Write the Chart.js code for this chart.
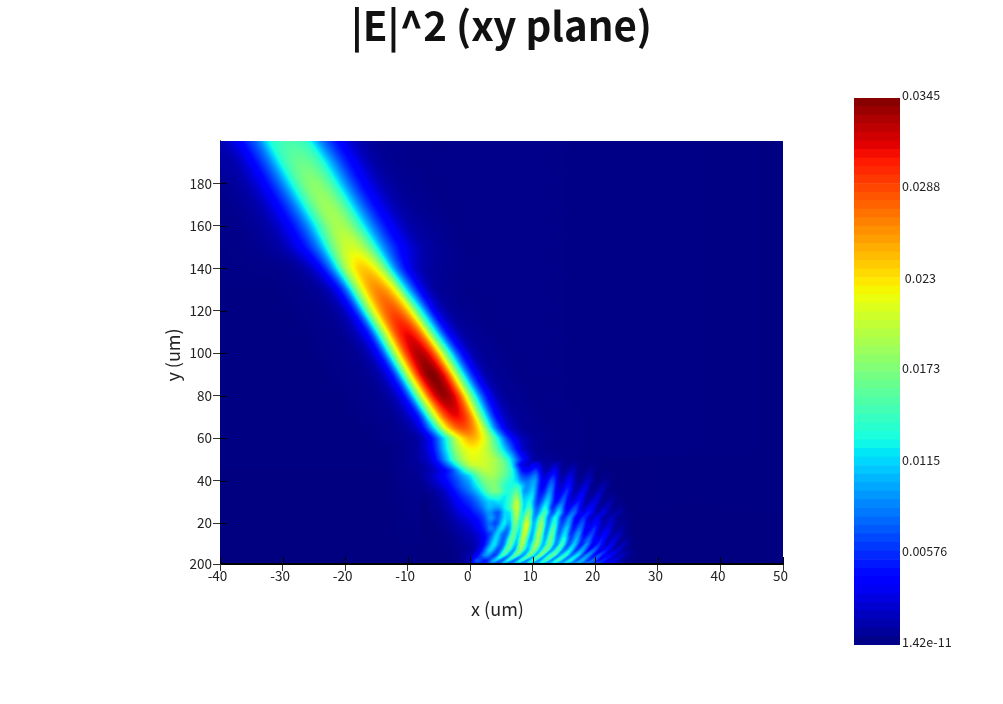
<!DOCTYPE html>
<html>
<head>
<meta charset="utf-8">
<title>|E|^2 (xy plane)</title>
<script src="https://cdn.jsdelivr.net/npm/chart.js@4"></script>
<style>
  html, body { margin: 0; padding: 0; background: #fff; }
  #wrap { position: relative; width: 1003px; height: 704px; overflow: hidden; }
  #chart { position: absolute; left: 0; top: 0; }
  #colorbar { position: absolute; left: 840px; top: 80px; }
</style>
</head>
<body>
<div id="wrap">
  <canvas id="chart" width="1003" height="704"></canvas>
  <canvas id="colorbar" width="150" height="590"></canvas>
</div>
<script>
const FONT = '"Noto Sans CJK JP", "Noto Sans", sans-serif';

const titleText = '|E|^2 (xy plane)';
const xTitle = 'x (um)';
const yTitle = 'y (um)';

const xTickValues = [-40, -30, -20, -10, 0, 10, 20, 30, 40, 50];
const yMin = 0.8;
const yTickValues = [yMin, 20, 40, 60, 80, 100, 120, 140, 160, 180];
const yTickLabels = ['200', '20', '40', '60', '80', '100', '120', '140', '160', '180'];

const colorMax = 0.0345;
const colorBands = 64;
const colorTickValues = [1.42e-11, 0.00576, 0.0115, 0.0173, 0.023, 0.0288, 0.0345];
const colorTickLabels = ['1.42e-11', '0.00576', '0.0115', '0.0173', ' 0.023', '0.0288', '0.0345'];

// values below are |E|^2 in units of 1e-4
const beamX = [-40, -38, -36, -34, -32, -30, -28, -26, -24, -22, -20, -18, -16, -14, -12, -10, -8, -6, -4, -2, 0, 2, 4, 6, 8, 10, 12, 14, 16, 20, 30, 50];
const beamY = [200, 190, 180, 170, 160, 150, 140, 130, 120, 110, 100, 90, 80, 70, 65, 60, 55, 50, 40, 0];
const beamZ = [
  [15,28,51,82,131,147,149,136,90,56,32,16,8,5,5,4,4,3,3,3,3,3,3,3,3,3,3,3,2,2,2,1],
  [11,13,27,51,87,137,161,163,144,97,57,33,15,8,5,4,3,3,3,3,3,3,3,3,3,3,3,3,2,2,2,1],
  [5,8,14,29,53,90,142,174,175,147,95,55,31,15,8,5,4,3,3,3,3,3,3,3,3,3,3,3,2,2,2,1],
  [3,5,8,14,29,53,90,145,181,182,150,95,55,31,15,8,5,4,3,3,3,3,3,3,3,3,3,3,2,2,2,1],
  [3,3,5,8,14,29,53,90,146,186,187,152,97,56,32,15,9,6,4,3,3,3,3,3,3,3,3,3,2,2,2,1],
  [2,3,3,5,8,14,30,54,95,164,203,203,164,97,55,31,15,9,6,4,3,3,3,3,3,3,3,3,2,2,2,1],
  [2,2,2,3,3,4,7,16,40,93,184,234,234,184,93,40,16,8,5,4,3,3,3,3,3,3,3,3,2,2,2,1],
  [1,1,1,1,1,2,3,5,9,26,75,181,251,262,216,112,42,12,6,4,3,3,3,3,3,3,3,3,2,2,2,1],
  [1,1,1,1,1,1,2,3,4,8,22,72,186,265,284,241,137,46,14,6,4,3,3,3,3,3,3,3,2,2,2,1],
  [1,1,1,1,1,1,1,2,3,4,8,22,65,182,281,310,267,153,55,17,7,5,3,3,3,3,3,3,2,2,2,1],
  [1,1,1,1,1,1,1,1,2,3,4,7,20,68,192,297,330,290,178,70,20,7,5,3,3,3,3,3,2,2,2,1],
  [1,1,1,1,1,1,1,1,1,2,3,4,7,20,68,197,310,345,302,182,70,20,7,5,3,3,3,3,2,2,2,1],
  [1,1,1,1,1,1,1,1,1,1,2,3,4,7,20,68,194,304,338,296,178,70,20,7,5,3,3,3,2,2,2,1],
  [1,1,1,1,1,1,1,1,1,1,1,2,3,4,7,20,60,182,281,310,267,153,52,16,7,5,3,3,3,2,2,1],
  [1,1,1,1,1,1,1,1,1,1,1,1,2,3,5,11,34,110,222,280,273,203,85,26,9,5,4,3,3,2,2,1],
  [1,1,1,1,1,1,1,1,1,1,1,1,1,3,4,7,14,50,125,210,250,222,148,62,22,8,5,3,3,2,2,1],
  [1,1,1,1,1,1,1,1,1,1,1,1,1,1,3,6,14,45,115,190,222,212,165,95,30,9,4,3,3,2,2,1],
  [1,1,1,1,1,1,1,1,1,1,1,1,1,1,3,6,12,34,95,170,212,208,190,140,60,14,8,5,3,1,1,1],
  [0,0,0,0,0,0,0,0,0,0,0,0,0,0,2,4,6,18,40,70,105,165,175,140,95,96,35,28,22,3,1,1],
  [0,0,0,0,0,0,0,0,0,0,0,0,0,0,0,0,0,0,0,0,0,0,0,0,0,0,0,0,0,0,0,0]
];

// finer grid for the fringes near the bottom edge
const fringeX = [-8, -7, -6, -5, -4, -3, -2, -1, 0,
  0.5, 1, 1.5, 2, 2.5, 3, 3.5, 4, 4.5, 5,
  5.5, 6, 6.5, 7, 7.5, 8, 8.5, 9, 9.5, 10,
  10.5, 11, 11.5, 12, 12.5, 13, 13.5, 14, 14.5, 15,
  15.5, 16, 16.5, 17, 17.5, 18, 18.5, 19, 19.5, 20,
  20.5, 21, 21.5, 22, 22.5, 23, 23.5, 24, 24.5, 25,
  26, 28];
const fringeY = [0, 2.5, 5, 7.5, 10, 12.5, 15, 17.5, 20, 22.5, 25, 27.5, 30, 32.5, 35, 37.5, 40, 42.5, 45, 47.5, 50];
const fringeZ = [
  [0,0,0,0,0,2,4,12,30, 50,55,45,45,60,70,60,55,70,85, 80,70,85,95,85,75,90,105,95,85, 95,110,105,90,100,115,110,95,105,115, 110,90,100,110,100,80,85,90,75,60, 65,60,45,40,35,25,20,12,8,5, 2,0],
  [0,0,0,0,0,1,3,8,22, 50,68,68,55,50,65,95,110,95,75, 95,130,110,80,100,135,130,90,110,145, 125,90,120,150,125,90,120,145,120,85, 110,130,105,75,95,103,75,60,80,70, 45,52,50,30,25,30,22,12,8,5, 2,0],
  [0,0,0,0,1,2,4,8,14, 22,35,55,80,95,90,70,65,95,140, 140,100,100,150,160,115,95,130,168,140, 105,165,155,100,125,155,150,95,105,138, 130,85,90,120,105,65,85,93,60,45, 68,58,35,38,44,28,15,20,18,10, 3,0],
  [0,0,0,0,1,2,4,6,9, 14,22,35,55,85,112,112,85,70,90, 135,160,125,95,140,180,150,105,120,172, 170,115,125,170,150,95,115,150,120,80, 100,125,95,60,85,100,70,42,68,73, 45,28,45,45,25,15,25,20,10,6, 2,0],
  [0,0,0,0,1,3,5,8,11, 14,18,26,38,58,85,115,118,90,75, 95,145,163,120,115,180,185,130,110,150, 190,165,110,120,168,150,95,100,148,125, 75,80,113,95,55,60,90,72,38,40, 60,45,22,22,35,25,10,12,17,10, 2,0],
  [0,0,0,1,2,4,6,10,13, 16,20,26,35,48,68,95,118,105,80, 80,120,160,150,115,165,198,155,105,115, 170,185,130,100,150,165,115,85,115,137, 100,65,85,105,78,50,65,78,55,35, 38,50,35,18,20,27,20,8,6,8, 1,0],
  [0,0,0,1,3,5,8,12,16, 20,24,30,38,50,62,75,105,114,90, 75,90,135,165,125,135,200,190,125,105, 155,195,150,95,120,165,130,80,90,120, 105,60,65,90,90,50,42,55,65,45, 25,28,38,35,15,12,18,18,8,4, 1,0],
  [0,0,1,2,4,7,11,16,21, 27,32,40,50,62,82,85,80,105,120, 100,85,115,160,150,125,190,212,150,105, 130,180,175,105,100,145,145,90,75,100, 112,75,50,65,82,65,35,38,50,55, 30,20,25,32,22,9,8,10,8,3, 1,0],
  [0,0,1,3,5,9,14,20,26, 32,38,45,55,68,80,75,65,80,110, 125,105,115,165,165,130,170,215,175,110, 120,165,178,120,90,120,140,105,68,75, 98,88,50,45,62,70,45,28,32,44, 38,18,14,20,25,15,6,5,6,3, 1,0],
  [0,0,2,4,7,12,19,27,34, 40,45,52,60,75,92,95,80,75,95, 118,115,125,170,183,140,145,188,165,105, 100,140,165,130,85,100,130,112,68,58, 80,92,62,36,42,58,50,26,20,30, 34,18,10,14,20,14,5,4,5,2, 1,0],
  [0,1,3,5,9,16,25,35,42, 50,56,62,72,85,92,88,75,72,90, 115,118,130,175,195,155,125,160,170,115, 85,100,135,148,110,72,85,118,100,62, 50,68,80,62,36,32,44,50,35,18, 18,26,26,14,8,9,12,11,5,2, 1,0],
  [0,1,4,7,12,20,32,42,52, 60,66,75,85,98,108,105,100,100,110, 125,135,155,190,205,165,120,130,145,110, 78,80,110,130,105,62,62,88,95,62, 38,42,60,64,42,22,24,34,37,22, 10,12,17,18,9,4,5,6,4,1, 0,0],
  [1,2,5,8,14,25,38,50,60, 68,75,85,95,105,112,112,115,120,120, 125,135,150,180,200,165,120,122,130,108, 72,62,82,110,112,78,48,52,72,72, 42,28,32,46,48,28,14,16,26,30, 17,7,7,10,12,7,3,2,2,1, 0,0],
  [1,3,6,10,18,30,45,58,70, 78,88,98,110,122,132,138,140,140,130, 125,130,145,168,178,150,110,112,120,118, 78,55,62,85,105,85,50,38,50,68, 52,27,20,28,40,36,16,10,13,20, 24,12,5,4,6,5,2,1,1,0, 0,0],
  [2,5,8,14,22,38,55,70,85, 95,105,118,132,148,162,168,172,168,155, 140,135,138,150,160,135,100,95,105,112, 85,52,48,62,88,85,52,32,32,48, 58,38,18,15,24,34,26,10,6,9, 15,18,9,3,2,2,2,1,0,0, 0,0],
  [4,8,14,22,32,48,65,80,95, 110,122,135,150,162,170,175,175,165,152, 140,132,130,135,140,125,105,92,95,105, 90,55,40,48,70,82,60,30,24,32, 48,42,20,11,13,22,28,15,5,4, 7,11,12,5,1,1,1,0,0,0, 0,0],
  [6,12,18,28,40,55,70,88,105, 122,135,150,165,172,176,178,175,168,158, 150,140,132,125,115,95,85,82,88,96, 92,62,38,35,52,70,58,28,18,20, 33,40,22,9,6,11,18,20,9,3, 2,3,5,6,2,0,0,0,0,0, 0,0],
  [8,14,22,32,46,62,80,100,122, 140,155,170,178,185,188,190,185,178,170, 160,150,138,125,105,78,65,62,68,78, 82,58,32,24,32,48,50,27,13,12, 20,28,20,7,4,6,10,13,8,2, 1,2,3,3,1,0,0,0,0,0, 0,0],
  [8,12,18,28,42,62,95,135,165, 172,182,190,195,198,198,195,188,182,175, 165,155,140,120,90,58,42,38,42,52, 60,44,24,14,18,28,35,24,9,7, 11,16,18,8,3,3,5,7,8,4, 1,1,1,1,0,0,0,0,0,0, 0,0],
  [8,14,24,42,68,100,140,175,200, 205,207,207,207,205,200,195,190,183,175, 165,150,130,100,65,42,28,24,26,32, 35,28,16,10,10,14,18,18,8,5, 5,7,9,8,3,2,2,3,3,2, 1,1,0,0,0,0,0,0,0,0, 0,0],
  [12,20,34,60,95,135,170,195,212, 214,214,212,208,204,200,196,190,180,170, 157,140,120,98,78,60,42,28,20,14, 11,9,9,8,8,6,5,5,5,4, 3,3,3,3,2,2,2,2,1,1, 1,1,1,1,1,0,0,0,0,0, 0,0]
];

// how far the stripes lean between two fringe rows (um of x per um of y), near x=6 and near x=20
const fringeLeanLeft = [0.6, 0.48, 0.3, 0.18, 0.12, 0.12, 0.1, 0.06, 0.05, 0.05, 0.05, 0.05, 0.05, 0.05, 0.05, 0.05, 0.05, 0.05, 0.05, 0.05];
const fringeLeanRight = [0.6, 0.46, 0.42, 0.36, 0.3, 0.25, 0.2, 0.2, 0.2, 0.2, 0.2, 0.2, 0.2, 0.2, 0.2, 0.2, 0.2, 0.2, 0.2, 0.2];
const beamLean = -0.2;

function lerp(a, b, t) { return a + (b - a) * t; }

// matplotlib style jet, t from 0 to 1
function jet(t) {
  const pw = (pts) => {
    for (let i = 1; i < pts.length; i++) {
      if (t <= pts[i][0]) {
        const p = pts[i - 1], q = pts[i];
        return lerp(p[1], q[1], (t - p[0]) / (q[0] - p[0]));
      }
    }
    return pts[pts.length - 1][1];
  };
  return [
    255 * pw([[0, 0], [0.35, 0], [0.66, 1], [0.89, 1], [1, 0.5]]),
    255 * pw([[0, 0], [0.125, 0], [0.375, 1], [0.64, 1], [0.91, 0], [1, 0]]),
    255 * pw([[0, 0.5], [0.11, 1], [0.34, 1], [0.65, 0], [1, 0]])
  ];
}

function cellIndex(arr, v) {
  for (let i = 0; i < arr.length - 1; i++) {
    const lo = Math.min(arr[i], arr[i + 1]), hi = Math.max(arr[i], arr[i + 1]);
    if (v >= lo && v <= hi) return i;
  }
  return -1;
}

// smooth shading along one row of a grid
function rowValue(xs, row, x) {
  const n = xs.length;
  x = Math.max(xs[0], Math.min(xs[n - 1], x));
  const i = Math.max(0, cellIndex(xs, x));
  const h = xs[i + 1] - xs[i], t = (x - xs[i]) / h;
  const a = i > 0 ? i - 1 : i, b = i + 2 < n ? i + 2 : i + 1;
  const m0 = (row[i + 1] - row[a]) / (xs[i + 1] - xs[a]) * h;
  const m1 = (row[b] - row[i]) / (xs[b] - xs[i]) * h;
  const t2 = t * t, t3 = t2 * t;
  return (2 * t3 - 3 * t2 + 1) * row[i] + (t3 - 2 * t2 + t) * m0 + (-2 * t3 + 3 * t2) * row[i + 1] + (t3 - t2) * m1;
}

function sampleGrid(xs, ys, zs, lean, x, y) {
  if (x < xs[0] || x > xs[xs.length - 1]) return null;
  const r = cellIndex(ys, y);
  if (r < 0) return null;
  const s = lean(x, r);
  const v0 = rowValue(xs, zs[r], x - s * (y - ys[r]));
  const v1 = rowValue(xs, zs[r + 1], x - s * (y - ys[r + 1]));
  return lerp(v0, v1, (y - ys[r]) / (ys[r + 1] - ys[r]));
}

function leanOfFringes(x, r) {
  if (x < 2) return 0;
  const t = Math.max(0, Math.min(1, (x - 6) / 14));
  const k = x < 5 ? (x - 2) / 3 : 1;
  return k * lerp(fringeLeanLeft[r], fringeLeanRight[r], t);
}

function leanOfBeam(x, r) {
  return beamY[r + 1] >= 60 ? beamLean : 0;
}

function gridPoints(xs, ys, zs) {
  const pts = [];
  ys.forEach((y, r) => xs.forEach((x, c) => pts.push({ x: x, y: y, v: zs[r][c] })));
  return pts;
}

let heatImage = null;

// paints the two grids with smooth shading, through the chart's own scales
const heatmapPlugin = {
  id: 'heatmap',
  beforeDatasetsDraw(chart) {
    const { ctx, chartArea: a, scales } = chart;
    if (!heatImage) {
      const w = Math.round(a.right - a.left), h = Math.round(a.bottom - a.top);
      heatImage = document.createElement('canvas');
      heatImage.width = w;
      heatImage.height = h;
      const c = heatImage.getContext('2d');
      const img = c.createImageData(w, h);
      for (let j = 0; j < h; j++) {
        const y = scales.y.getValueForPixel(a.top + j + 0.5);
        for (let i = 0; i < w; i++) {
          const x = scales.x.getValueForPixel(a.left + i + 0.5);
          let z = sampleGrid(fringeX, fringeY, fringeZ, leanOfFringes, x, y);
          if (z === null) z = sampleGrid(beamX, beamY, beamZ, leanOfBeam, x, y);
          const rgb = jet(Math.max(0, Math.min(1, (z || 0) / 345)));
          const k = (j * w + i) * 4;
          img.data[k] = rgb[0];
          img.data[k + 1] = rgb[1];
          img.data[k + 2] = rgb[2];
          img.data[k + 3] = 255;
        }
      }
      c.putImageData(img, 0, 0);
    }
    ctx.drawImage(heatImage, a.left, a.top);
  },
  afterDraw(chart) {
    const { ctx, chartArea: a, scales } = chart;
    ctx.save();
    ctx.strokeStyle = '#000';
    ctx.lineWidth = 1;
    ctx.beginPath();
    xTickValues.forEach((v) => {
      const px = Math.round(scales.x.getPixelForValue(v)) + 0.5;
      ctx.moveTo(px, a.bottom);
      ctx.lineTo(px, a.bottom - 7);
    });
    yTickValues.forEach((v) => {
      if (v === yMin) return;
      const py = Math.round(scales.y.getPixelForValue(v)) + 0.5;
      ctx.moveTo(a.left, py);
      ctx.lineTo(a.left + 7, py);
    });
    ctx.stroke();
    ctx.fillRect(a.left, a.bottom - 1, a.right - a.left, 1.5);

    // axis titles
    ctx.fillStyle = '#222';
    ctx.font = '18px ' + FONT;
    ctx.textAlign = 'center';
    ctx.textBaseline = 'middle';
    ctx.fillText(xTitle, 497.5, 609);
    ctx.translate(173, 355);
    ctx.rotate(-Math.PI / 2);
    ctx.fillText(yTitle, 0, 0);
    ctx.restore();
  }
};

new Chart(document.getElementById('chart'), {
  type: 'scatter',
  data: {
    datasets: [
      { label: 'beam', data: gridPoints(beamX, beamY, beamZ), pointRadius: 0 },
      { label: 'fringes', data: gridPoints(fringeX, fringeY, fringeZ), pointRadius: 0 }
    ]
  },
  plugins: [heatmapPlugin],
  options: {
    responsive: false,
    animation: false,
    devicePixelRatio: 1,
    layout: { padding: 0 },
    plugins: {
      legend: { display: false },
      tooltip: { enabled: false },
      title: {
        display: true,
        text: titleText,
        color: '#111',
        font: { family: FONT, size: 40.2, weight: 'bold', lineHeight: 1.28 },
        padding: { top: 0, bottom: 89.5 }
      }
    },
    scales: {
      x: {
        type: 'linear',
        min: -40,
        max: 50,
        afterBuildTicks: (axis) => { axis.ticks = xTickValues.map((v) => ({ value: v })); },
        afterFit: (axis) => { axis.height = 140; },
        grid: { drawOnChartArea: false, tickLength: 7, color: '#333' },
        border: { color: '#000' },
        ticks: { color: '#222', font: { family: FONT, size: 13.5 }, padding: -3, labelOffset: -2.5, maxRotation: 0, autoSkip: false }
      },
      y: {
        type: 'linear',
        min: yMin,
        max: 200,
        afterBuildTicks: (axis) => { axis.ticks = yTickValues.map((v) => ({ value: v })); },
        afterFit: (axis) => { axis.width = 220; },
        grid: { drawOnChartArea: false, tickLength: 7, color: '#333' },
        border: { color: '#666' },
        ticks: {
          color: '#222',
          font: { family: FONT, size: 13.5 },
          padding: 1,
          autoSkip: false,
          callback: (v) => yTickLabels[yTickValues.indexOf(v)]
        }
      },
      // empty space on the right, the colour bar sits there
      gap: {
        type: 'linear',
        position: 'right',
        grid: { display: false },
        border: { display: false },
        ticks: { display: false },
        afterFit: (axis) => { axis.width = 220; }
      }
    }
  }
});

// colour bar, one floating bar per colour step
const bandDatasets = [];
for (let i = 0; i < colorBands; i++) {
  const rgb = jet((i + 0.5) / colorBands);
  bandDatasets.push({
    data: [[colorMax * i / colorBands, colorMax * (i + 1) / colorBands]],
    backgroundColor: 'rgb(' + rgb.map(Math.round).join(',') + ')',
    borderWidth: 0,
    barPercentage: 1,
    categoryPercentage: 1,
    grouped: false
  });
}

new Chart(document.getElementById('colorbar'), {
  type: 'bar',
  data: { labels: ['|E|^2'], datasets: bandDatasets },
  options: {
    responsive: false,
    animation: false,
    devicePixelRatio: 1,
    layout: { padding: { left: 14, right: 30, top: 18, bottom: 25 } },
    plugins: { legend: { display: false }, tooltip: { enabled: false } },
    scales: {
      x: { display: false },
      y: {
        position: 'right',
        min: 0,
        max: colorMax,
        afterBuildTicks: (axis) => { axis.ticks = colorTickValues.map((v) => ({ value: v })); },
        afterFit: (axis) => { axis.width = 60; },
        grid: { display: false, drawTicks: false },
        border: { display: false },
        ticks: {
          color: '#222',
          font: { family: FONT, size: 12.5 },
          padding: 2,
          labelOffset: -2.5,
          autoSkip: false,
          callback: (v) => colorTickLabels[colorTickValues.indexOf(v)]
        }
      }
    }
  }
});
</script>
</body>
</html>
